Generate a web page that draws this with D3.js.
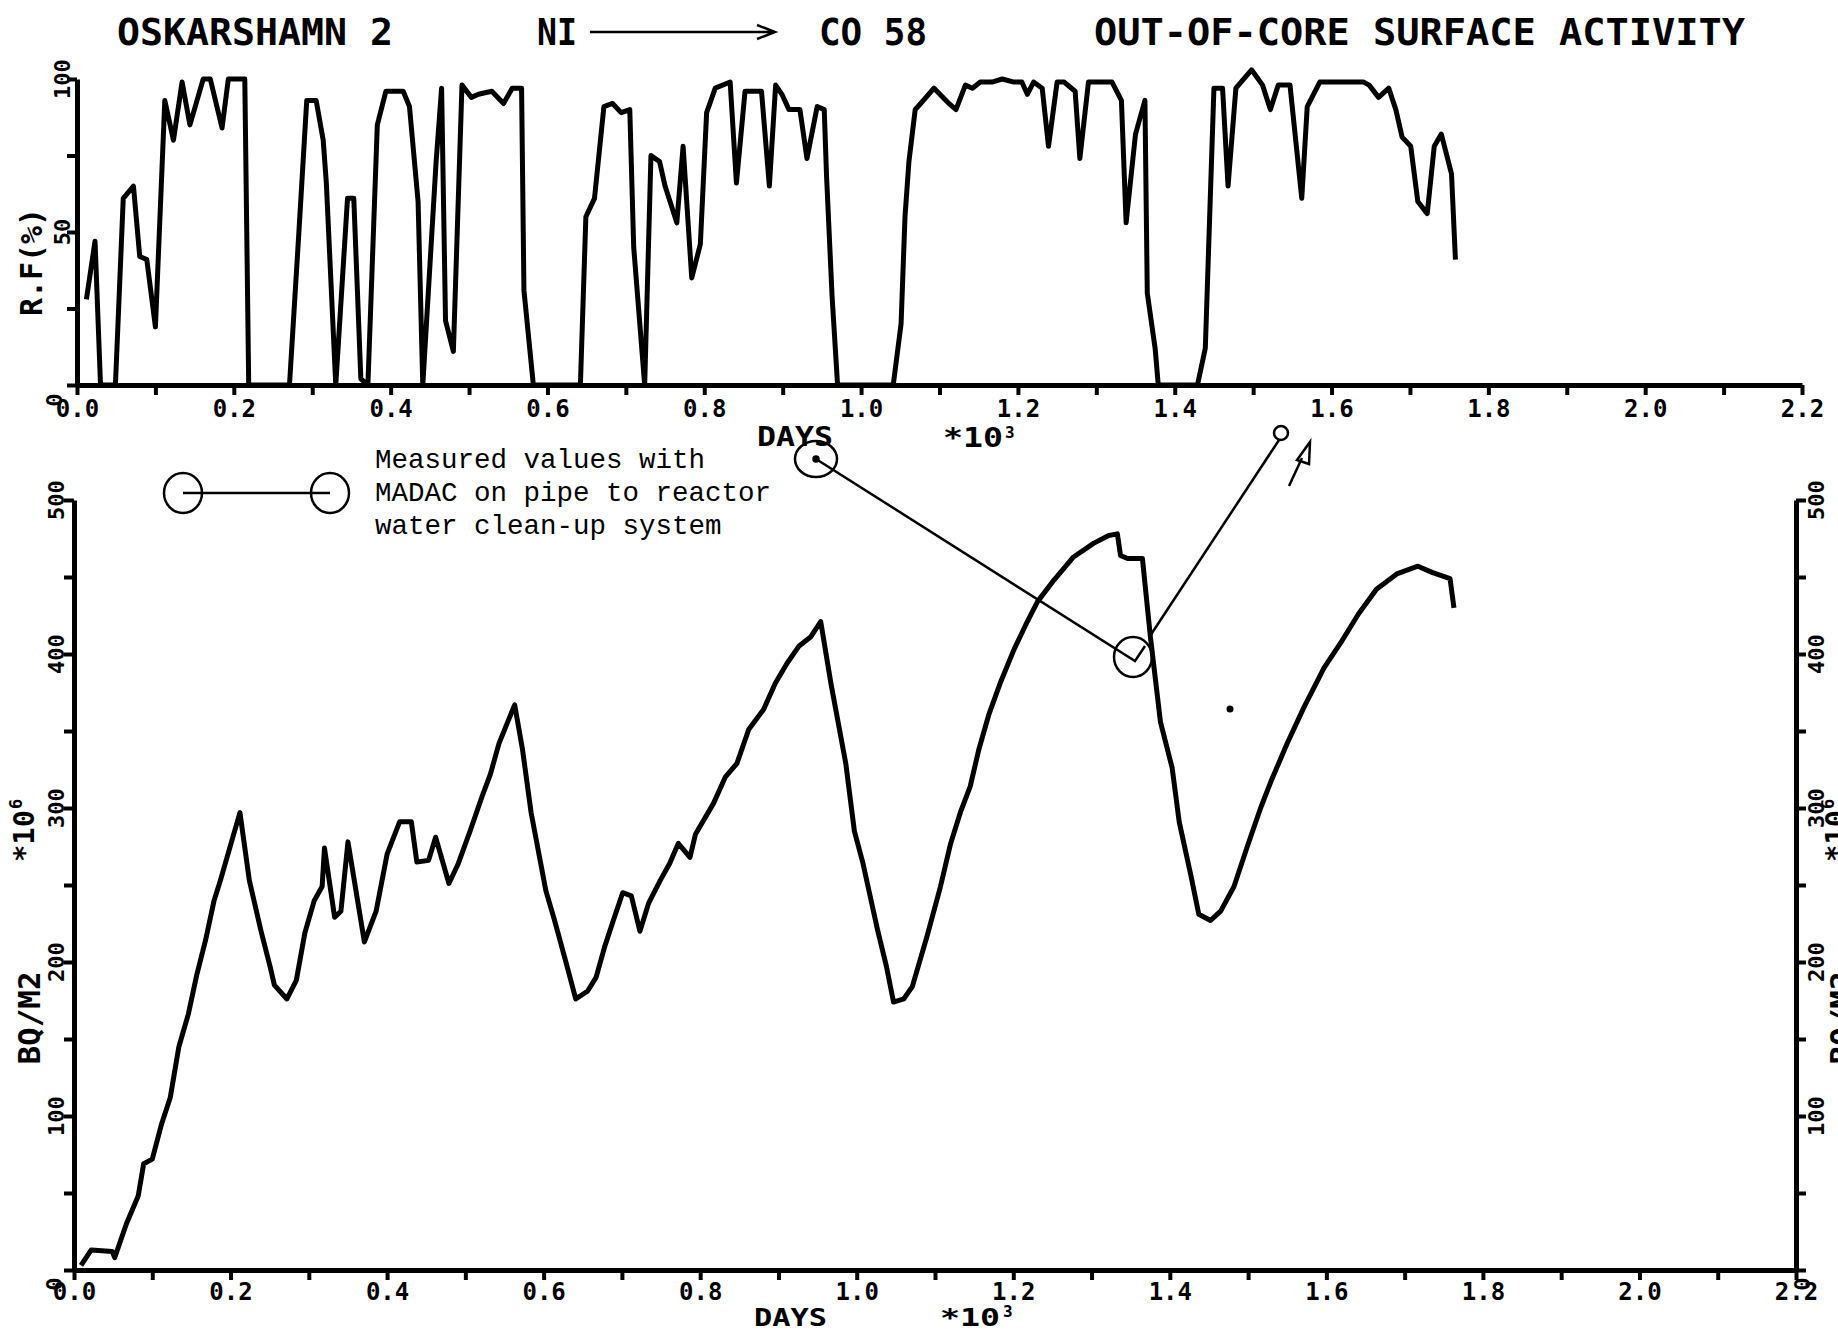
<!DOCTYPE html>
<html>
<head>
<meta charset="utf-8">
<script src="https://cdn.jsdelivr.net/npm/d3@7"></script>
<style>
  body { margin: 0; background: #fff; }
  svg { display: block; background: #fff; }
  .plot { font-family: 'DejaVu Sans Mono', monospace; font-weight: bold; }
  .note { font-family: 'Liberation Mono', monospace; }
</style>
</head>
<body>
<div id="chart"></div>
<script>
// R.F(%) per day (days in 10^3)
const rfPoints = [
  [0.012,28],[0.023,47],[0.030,0],[0.049,0],[0.059,61],[0.072,65],[0.080,42],[0.089,41],[0.100,19],
  [0.112,93],[0.123,80],[0.134,99],[0.144,85],[0.161,100],[0.170,100],[0.185,84],[0.193,100],[0.214,100],
  [0.219,0],[0.271,0],[0.283,50],[0.293,93],[0.305,93],[0.314,80],[0.318,66],[0.330,0],[0.345,61],
  [0.353,61],[0.362,2],[0.371,0],[0.383,85],[0.394,96],[0.416,96],[0.424,91],[0.435,60],[0.441,0],
  [0.458,73],[0.465,97],[0.470,21],[0.480,11],[0.491,98],[0.503,94],[0.512,95],[0.529,96],[0.544,92],
  [0.555,97],[0.567,97],[0.570,31],[0.582,0],[0.642,0],[0.649,55],[0.660,61],[0.672,91],[0.683,92],
  [0.694,89],[0.705,90],[0.710,45],[0.724,0],[0.732,75],[0.743,73],[0.750,65],[0.765,53],[0.773,78],
  [0.784,35],[0.795,46],[0.803,89],[0.814,97],[0.833,99],[0.841,66],[0.852,96],[0.865,96],[0.873,96],
  [0.883,65],[0.891,98],[0.899,95],[0.908,90],[0.922,90],[0.931,74],[0.944,91],[0.953,90],[0.956,68],
  [0.963,29],[0.970,0],[1.041,0],[1.051,20],[1.056,55],[1.061,73],[1.069,90],[1.076,92],[1.093,97],
  [1.112,92],[1.121,90],[1.133,98],[1.142,97],[1.152,99],[1.167,99],[1.180,100],[1.195,99],[1.205,99],
  [1.212,95],[1.220,99],[1.231,97],[1.239,78],[1.250,99],[1.259,99],[1.273,96],[1.279,74],[1.290,99],
  [1.320,99],[1.332,93],[1.338,53],[1.350,82],[1.362,93],[1.365,30],[1.375,12],[1.379,0],[1.429,0],
  [1.439,12],[1.450,97],[1.461,97],[1.468,65],[1.478,97],[1.498,103],[1.512,98],[1.522,90],[1.532,98],
  [1.547,98],[1.562,61],[1.569,91],[1.585,99],[1.641,99],[1.648,98],[1.660,94],[1.673,97],[1.682,90],
  [1.690,81],[1.701,78],[1.710,60],[1.722,56],[1.731,78],[1.740,82],[1.753,69],[1.758,41]
];

// surface activity BQ/M2 (*10^6) per day (days in 10^3)
const activityPoints = [
  [0.009,3],[0.022,13],[0.049,12],[0.052,8],[0.067,30],[0.082,48],[0.089,69],[0.100,72],[0.112,95],
  [0.123,112],[0.134,145],[0.146,166],[0.157,192],[0.168,214],[0.179,240],[0.187,253],[0.212,297],
  [0.224,253],[0.239,220],[0.251,196],[0.256,185],[0.272,176],[0.284,188],[0.295,219],[0.307,240],
  [0.317,249],[0.320,274],[0.333,229],[0.341,233],[0.350,278],[0.371,213],[0.386,233],[0.400,270],
  [0.416,291],[0.431,291],[0.438,265],[0.453,266],[0.462,281],[0.479,251],[0.491,264],[0.506,285],
  [0.521,307],[0.532,322],[0.543,342],[0.563,367],[0.573,338],[0.584,297],[0.603,246],[0.614,227],
  [0.629,199],[0.641,176],[0.656,181],[0.667,190],[0.678,210],[0.689,227],[0.701,245],[0.712,243],
  [0.723,220],[0.734,238],[0.749,253],[0.761,264],[0.772,277],[0.787,268],[0.794,283],[0.817,303],
  [0.832,320],[0.847,329],[0.862,351],[0.881,364],[0.896,381],[0.911,394],[0.926,405],[0.941,411],
  [0.954,421],[0.967,381],[0.986,329],[0.997,285],[1.008,264],[1.027,220],[1.038,197],[1.047,174],
  [1.060,176],[1.071,184],[1.090,217],[1.107,249],[1.120,277],[1.133,298],[1.145,314],[1.156,338],
  [1.169,361],[1.184,382],[1.201,403],[1.216,419],[1.231,434],[1.252,448],[1.277,463],[1.303,472],
  [1.322,477],[1.333,478],[1.337,464],[1.346,462],[1.365,462],[1.375,412],[1.388,356],[1.403,326],
  [1.412,291],[1.427,256],[1.437,231],[1.452,227],[1.465,233],[1.482,249],[1.499,275],[1.516,300],
  [1.529,317],[1.550,342],[1.571,365],[1.597,391],[1.618,407],[1.641,426],[1.664,442],[1.690,452],
  [1.717,457],[1.735,453],[1.758,449],[1.763,430]
];

const xTicks = [0,0.1,0.2,0.3,0.4,0.5,0.6,0.7,0.8,0.9,1.0,1.1,1.2,1.3,1.4,1.5,1.6,1.7,1.8,1.9,2.0,2.1,2.2];
const xTickLabels = ["0.0","0.2","0.4","0.6","0.8","1.0","1.2","1.4","1.6","1.8","2.0","2.2"];
const rfTicks = [0, 25, 50, 75, 100];
const rfTickLabels = ["0", "50", "100"];
const actTicks = [0, 50, 100, 150, 200, 250, 300, 350, 400, 450, 500];
const actTickLabels = ["0", "100", "200", "300", "400", "500"];

const width = 1838, height = 1334;

const svg = d3.select("#chart")
  .append("svg")
    .attr("width", width)
    .attr("height", height);

// scales
const xTop = d3.scaleLinear().domain([0, 2.2]).range([77, 1802]);
const yTop = d3.scaleLinear().domain([0, 100]).range([385, 79]);
const xBot = d3.scaleLinear().domain([0, 2.2]).range([74, 1796]);
const yBot = d3.scaleLinear().domain([0, 500]).range([1270, 500]);

function xLabel(d) {
  const s = d3.format(".1f")(d);
  return xTickLabels.includes(s) && Math.round(d * 10) % 2 === 0 ? s : "";
}

function styleAxis(g) {
  g.select(".domain").attr("stroke", "#000").attr("stroke-width", 5);
  g.selectAll(".tick line").attr("stroke", "#000").attr("stroke-width", 4);
  g.selectAll(".tick text")
    .attr("class", "plot")
    .attr("fill", "#000")
    .attr("font-size", 24);
}

// ---- top panel: R.F(%)
svg.append("g")
    .attr("transform", `translate(0, ${yTop(0)})`)
    .call(d3.axisBottom(xTop).tickValues(xTicks).tickSize(10).tickSizeOuter(0)
      .tickPadding(5).tickFormat(xLabel))
    .call(styleAxis);

svg.append("g")
    .attr("transform", `translate(${xTop(0)}, 0)`)
    .call(d3.axisLeft(yTop).tickValues(rfTicks).tickSize(10).tickSizeOuter(0).tickFormat(""))
    .call(styleAxis);

rfTickLabels.forEach(function(t) {
  const v = +t;
  const yy = v === 0 ? yTop(v) + 15 : yTop(v);
  svg.append("text")
    .attr("class", "plot")
    .attr("font-size", 22)
    .attr("text-anchor", "middle")
    .attr("transform", `translate(${v === 0 ? 62 : 70}, ${yy}) rotate(-90)`)
    .text(t);
});

svg.append("path")
    .datum(rfPoints)
    .attr("fill", "none")
    .attr("stroke", "#000")
    .attr("stroke-width", 5)
    .attr("stroke-linejoin", "round")
    .attr("d", d3.line().x(d => xTop(d[0])).y(d => yTop(d[1])));

svg.append("text")
    .attr("class", "plot")
    .attr("font-size", 30)
    .attr("text-anchor", "middle")
    .attr("textLength", 108)
    .attr("lengthAdjust", "spacingAndGlyphs")
    .attr("transform", "translate(42, 262) rotate(-90)")
    .text("R.F(%)");

svg.append("text").attr("class", "plot").attr("font-size", 27)
    .attr("x", 757).attr("y", 446).attr("textLength", 76).attr("lengthAdjust", "spacingAndGlyphs")
    .text("DAYS");
svg.append("text").attr("class", "plot").attr("font-size", 26)
    .attr("x", 943).attr("y", 447).attr("textLength", 60).attr("lengthAdjust", "spacingAndGlyphs")
    .text("*10");
svg.append("text").attr("class", "plot").attr("font-size", 16)
    .attr("x", 1005).attr("y", 438).text("3");

// ---- bottom panel: BQ/M2
svg.append("g")
    .attr("transform", `translate(0, ${yBot(0)})`)
    .call(d3.axisBottom(xBot).tickValues(xTicks).tickSize(10).tickSizeOuter(0)
      .tickPadding(3).tickFormat(xLabel))
    .call(styleAxis);

svg.append("g")
    .attr("transform", `translate(${xBot(0)}, 0)`)
    .call(d3.axisLeft(yBot).tickValues(actTicks).tickSize(10).tickSizeOuter(0).tickFormat(""))
    .call(styleAxis);

svg.append("g")
    .attr("transform", `translate(${xBot(2.2)}, 0)`)
    .call(d3.axisRight(yBot).tickValues(actTicks).tickSize(10).tickSizeOuter(0).tickFormat(""))
    .call(styleAxis);

actTickLabels.forEach(function(t) {
  const v = +t;
  const yy = v === 0 ? yBot(v) + 14 : yBot(v);
  svg.append("text")
    .attr("class", "plot")
    .attr("font-size", 22)
    .attr("text-anchor", "middle")
    .attr("transform", `translate(${v === 0 ? 62 : 64}, ${yy}) rotate(-90)`)
    .text(t);
  svg.append("text")
    .attr("class", "plot")
    .attr("font-size", 22)
    .attr("text-anchor", "middle")
    .attr("transform", `translate(${v === 0 ? 1810 : 1824}, ${yy}) rotate(-90)`)
    .text(t);
});

svg.append("path")
    .datum(activityPoints)
    .attr("fill", "none")
    .attr("stroke", "#000")
    .attr("stroke-width", 5)
    .attr("stroke-linejoin", "round")
    .attr("d", d3.line().x(d => xBot(d[0])).y(d => yBot(d[1])));

// y axis titles, left and (cut off by the page edge) right
[34, 1846].forEach(function(px) {
  const g = svg.append("g").attr("transform", `translate(${px}, 862) rotate(-90)`);
  g.append("text").attr("class", "plot").attr("font-size", 28)
    .attr("x", 0).attr("y", 0).attr("textLength", 52).attr("lengthAdjust", "spacingAndGlyphs")
    .text("*10");
  g.append("text").attr("class", "plot").attr("font-size", 17)
    .attr("x", 53).attr("y", -12).text("6");
  svg.append("text").attr("class", "plot")
    .attr("font-size", 30)
    .attr("text-anchor", "middle")
    .attr("textLength", 93)
    .attr("lengthAdjust", "spacingAndGlyphs")
    .attr("transform", `translate(${px + 6}, 1018) rotate(-90)`)
    .text("BQ/M2");
});

svg.append("text").attr("class", "plot").attr("font-size", 25)
    .attr("x", 754).attr("y", 1326).attr("textLength", 73).attr("lengthAdjust", "spacingAndGlyphs")
    .text("DAYS");
svg.append("text").attr("class", "plot").attr("font-size", 25)
    .attr("x", 940).attr("y", 1326).attr("textLength", 60).attr("lengthAdjust", "spacingAndGlyphs")
    .text("*10");
svg.append("text").attr("class", "plot").attr("font-size", 16)
    .attr("x", 1003).attr("y", 1317).text("3");

// ---- title
const title = [
  { t: "OSKARSHAMN 2", x: 117, len: 276 },
  { t: "NI", x: 537, len: 40 },
  { t: "CO 58", x: 819, len: 108 },
  { t: "OUT-OF-CORE SURFACE ACTIVITY", x: 1094, len: 651 }
];
title.forEach(function(d) {
  svg.append("text").attr("class", "plot")
    .attr("font-size", 38)
    .attr("x", d.x).attr("y", 45)
    .attr("textLength", d.len).attr("lengthAdjust", "spacingAndGlyphs")
    .text(d.t);
});
svg.append("path")
    .attr("d", "M590,32H775M757,25L775,32L757,39")
    .attr("fill", "none").attr("stroke", "#000").attr("stroke-width", 2.5);

// ---- legend
const legend = svg.append("g").attr("stroke", "#000").attr("fill", "none").attr("stroke-width", 2.5);
legend.append("line").attr("x1", 183).attr("y1", 493).attr("x2", 330).attr("y2", 493);
legend.append("ellipse").attr("cx", 183).attr("cy", 493).attr("rx", 19).attr("ry", 20);
legend.append("ellipse").attr("cx", 330).attr("cy", 493).attr("rx", 19).attr("ry", 20);

const noteLines = ["Measured values with", "MADAC on pipe to reactor", "water clean-up system"];
noteLines.forEach(function(t, i) {
  svg.append("text").attr("class", "note")
    .attr("font-size", 27.5)
    .attr("fill", "#000")
    .attr("x", 375).attr("y", 468 + i * 33)
    .text(t);
});

// ---- pointer annotation
const ann = svg.append("g").attr("stroke", "#000").attr("fill", "none").attr("stroke-width", 2.5);
ann.append("ellipse").attr("cx", 816).attr("cy", 459).attr("rx", 21).attr("ry", 18);
ann.append("circle").attr("cx", 816).attr("cy", 459).attr("r", 2.5).attr("fill", "#000");
ann.append("path").attr("d", "M816,459L1135,661L1145,646");
ann.append("ellipse").attr("cx", 1133).attr("cy", 657).attr("rx", 19).attr("ry", 20);
ann.append("path").attr("d", "M1150,636L1279,440");
ann.append("circle").attr("cx", 1281).attr("cy", 433).attr("r", 7);
ann.append("path").attr("d", "M1289,486L1302,458");
ann.append("path").attr("d", "M1297,460L1310,442L1309,464Z");

// scan speck
svg.append("circle").attr("cx", 1230).attr("cy", 709).attr("r", 3.5).attr("fill", "#000");
</script>
</body>
</html>
